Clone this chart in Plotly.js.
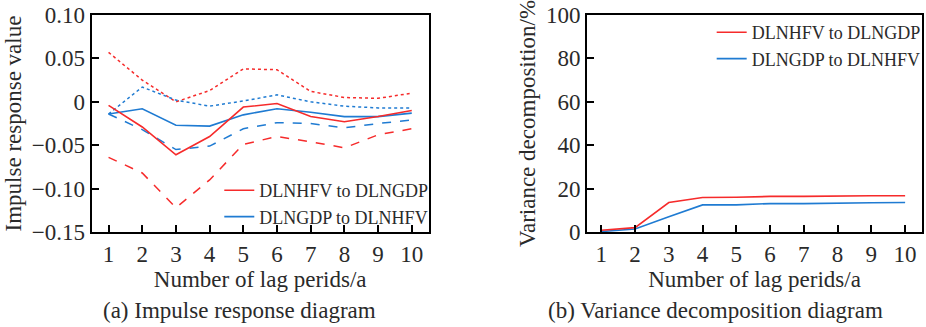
<!DOCTYPE html>
<html>
<head>
<meta charset="utf-8">
<script src="https://cdn.plot.ly/plotly-3.0.1.min.js"></script>
</head>
<body style="margin:0;padding:0;background:#fff">
<div id="chart" style="width:926px;height:327px"></div>
<script>
const lags = [1,2,3,4,5,6,7,8,9,10];

// (a) Impulse response
const irfHfvToGdp      = [-0.004,-0.029,-0.061,-0.040,-0.006,-0.002,-0.017,-0.023,-0.017,-0.010];
const irfHfvToGdpUpper = [0.057,0.025,0.000,0.013,0.038,0.037,0.012,0.005,0.004,0.010];
const irfHfvToGdpLower = [-0.064,-0.082,-0.122,-0.090,-0.049,-0.040,-0.046,-0.053,-0.038,-0.031];
const irfGdpToHfv      = [-0.014,-0.008,-0.027,-0.028,-0.015,-0.008,-0.012,-0.017,-0.017,-0.013];
const irfGdpToHfvUpper = [-0.014,0.017,0.002,-0.005,0.001,0.008,0.000,-0.005,-0.007,-0.007];
const irfGdpToHfvLower = [-0.014,-0.032,-0.055,-0.051,-0.031,-0.024,-0.025,-0.030,-0.025,-0.021];

// (b) Variance decomposition (%)
const vdHfvToGdp = [0.8,2.0,13.6,15.9,16.0,16.4,16.4,16.7,16.7,16.7];
const vdGdpToHfv = [0.2,1.4,7.0,12.5,12.5,13.1,13.1,13.4,13.5,13.6];

const seriesNames = ['DLNHFV to DLNGDP','DLNGDP to DLNHFV'];
const irfTickVals = [0.10,0.05,0,-0.05,-0.10,-0.15];
const irfTickText = ['0.10','0.05','0','\u22120.05','\u22120.10','\u22120.15'];
const vdTickVals = [0,20,40,60,80,100];
const xTickVals = lags;

const RED = '#f62b2b', BLUE = '#1f7bd2';
const FONT = 'Times New Roman';
const TXT = '#2a2a2a';
const FS = 23;

const traces = [
  {x:lags,y:irfHfvToGdpUpper,mode:'lines',line:{color:RED,width:1.5,dash:'dot'},showlegend:false,xaxis:'x',yaxis:'y'},
  {x:lags,y:irfHfvToGdpLower,mode:'lines',line:{color:RED,width:1.5,dash:'dash'},showlegend:false,xaxis:'x',yaxis:'y'},
  {x:lags,y:irfGdpToHfvUpper,mode:'lines',line:{color:BLUE,width:1.5,dash:'dot'},showlegend:false,xaxis:'x',yaxis:'y'},
  {x:lags,y:irfGdpToHfvLower,mode:'lines',line:{color:BLUE,width:1.5,dash:'dash'},showlegend:false,xaxis:'x',yaxis:'y'},
  {x:lags,y:irfGdpToHfv,name:seriesNames[1],mode:'lines',line:{color:BLUE,width:1.6},xaxis:'x',yaxis:'y',legend:'legend',legendrank:2},
  {x:lags,y:irfHfvToGdp,name:seriesNames[0],mode:'lines',line:{color:RED,width:1.6},xaxis:'x',yaxis:'y',legend:'legend',legendrank:1},
  {x:lags,y:vdGdpToHfv,name:seriesNames[1],mode:'lines',line:{color:BLUE,width:1.6},xaxis:'x2',yaxis:'y2',legend:'legend2',legendrank:2},
  {x:lags,y:vdHfvToGdp,name:seriesNames[0],mode:'lines',line:{color:RED,width:1.6},xaxis:'x2',yaxis:'y2',legend:'legend2',legendrank:1}
];

function tf(size){ return {family:FONT,size:size,color:TXT}; }

const axisCommon = {
  showline:true, mirror:true, linecolor:'#000', linewidth:2,
  ticks:'inside', ticklen:7, tickwidth:2, tickcolor:'#000',
  showgrid:false, zeroline:false
};
const yDom = [0.2905,0.954];

const layout = {
  width:926, height:327,
  margin:{l:0,r:0,t:0,b:0},
  paper_bgcolor:'#fff', plot_bgcolor:'#fff',
  font:tf(FS),
  xaxis: Object.assign({}, axisCommon, {domain:[92/926,430/926], range:[0.5,10.5], tickvals:xTickVals, tickfont:tf(FS),
    title:{text:'Number of lag perids/a', font:tf(FS), standoff:2}}),
  yaxis: Object.assign({}, axisCommon, {domain:yDom, range:[-0.15,0.10], tickvals:irfTickVals, ticktext:irfTickText, tickfont:tf(FS),
    title:{text:'Impulse response value', font:tf(FS), standoff:4}}),
  xaxis2: Object.assign({}, axisCommon, {anchor:'y2', domain:[589/926,925/926], range:[0.58,10.5], tickvals:xTickVals, tickfont:tf(FS),
    title:{text:'Number of lag perids/a', font:tf(FS), standoff:2}}),
  yaxis2: Object.assign({}, axisCommon, {anchor:'x2', domain:yDom, range:[0,100], tickvals:vdTickVals, tickfont:tf(FS),
    title:{text:'Variance decomposition/%', font:tf(FS), standoff:4}}),
  legend:{x:220/926, y:(327-172)/327, xanchor:'left', yanchor:'top', bgcolor:'rgba(0,0,0,0)',
    font:tf(18), tracegroupgap:0, itemwidth:30, traceorder:'normal'},
  legend2:{x:714/926, y:(327-14)/327, xanchor:'left', yanchor:'top', bgcolor:'rgba(0,0,0,0)',
    font:tf(18), tracegroupgap:0, itemwidth:30, traceorder:'normal'},
  annotations:[
    {text:'(a) Impulse response diagram', xref:'paper', yref:'paper', x:240/926, y:(327-310)/327,
      xanchor:'center', yanchor:'middle', showarrow:false, font:tf(FS)},
    {text:'(b) Variance decomposition diagram', xref:'paper', yref:'paper', x:718/926, y:(327-310)/327,
      xanchor:'center', yanchor:'middle', showarrow:false, font:tf(FS)}
  ]
};

Plotly.newPlot('chart', traces, layout, {staticPlot:true, displayModeBar:false}).then(function(gd){
  gd.querySelectorAll('svg text').forEach(function(t){
    t.style.setProperty('font-family', "'Liberation Serif', 'Times New Roman', serif", 'important');
  });
});
</script>
</body>
</html>
